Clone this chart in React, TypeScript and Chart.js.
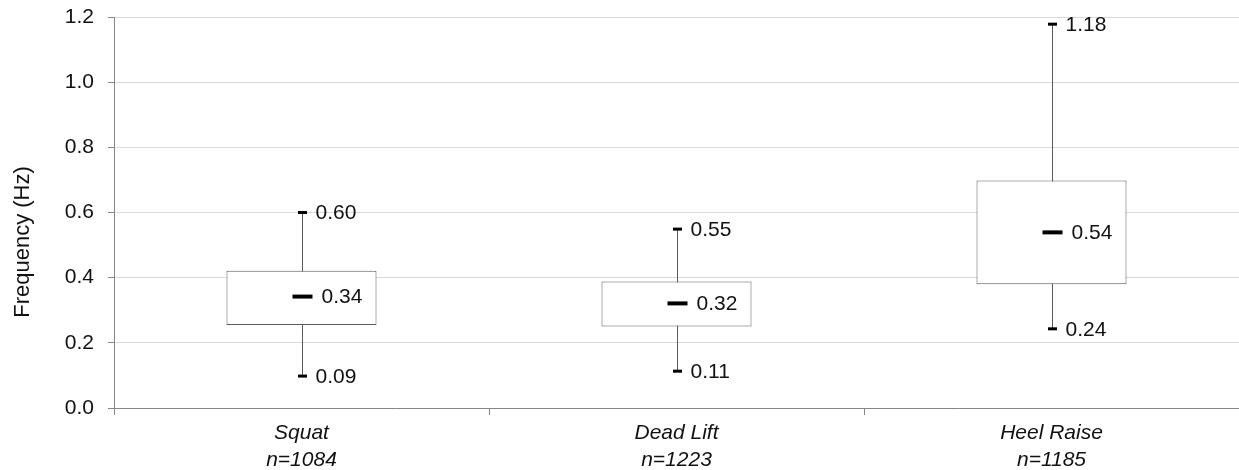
import React, { useEffect, useRef } from "react";
import { Chart, registerables } from "chart.js";

Chart.register(...registerables);

const categories = ["Squat", "Dead Lift", "Heel Raise"];
const sampleSizes = ["n=1084", "n=1223", "n=1185"];
const minValues = [0.098, 0.113, 0.243];
const q1Values = [0.255, 0.25, 0.38];
const medianValues = [0.342, 0.321, 0.539];
const q3Values = [0.421, 0.388, 0.698];
const maxValues = [0.6, 0.549, 1.178];
const minLabels = ["0.09", "0.11", "0.24"];
const medianLabels = ["0.34", "0.32", "0.54"];
const maxLabels = ["0.60", "0.55", "1.18"];
const yMin = 0;
const yMax = 1.2;
const yStep = 0.2;
const yTitle = "Frequency (Hz)";

const FONT = "'Liberation Sans', Arial, sans-serif";
const TEXT = "#111111";
const AXIS = "#868686";
const BOX = "#595959";

const boxPlugin = {
  id: "boxExtras",
  beforeDatasetsDraw(chart: any) {
    const { ctx, scales } = chart;
    const x = scales.x;
    const y = scales.y;
    ctx.save();
    ctx.strokeStyle = BOX;
    ctx.lineWidth = 1;
    categories.forEach((_, i) => {
      const cx = Math.round(x.getPixelForValue(i)) + 0.5;
      ctx.beginPath();
      ctx.moveTo(cx, y.getPixelForValue(maxValues[i]));
      ctx.lineTo(cx, y.getPixelForValue(minValues[i]));
      ctx.stroke();
    });
    ctx.restore();
  },
  afterDatasetsDraw(chart: any) {
    const { ctx, scales } = chart;
    const x = scales.x;
    const y = scales.y;
    ctx.save();
    ctx.fillStyle = "#000000";
    categories.forEach((_, i) => {
      const cx = Math.round(x.getPixelForValue(i)) + 0.5;
      const yMaxPx = y.getPixelForValue(maxValues[i]);
      const yMinPx = y.getPixelForValue(minValues[i]);
      const yMedPx = y.getPixelForValue(medianValues[i]);
      ctx.fillRect(cx - 4.5, yMaxPx - 1.5, 9, 3);
      ctx.fillRect(cx - 4.5, yMinPx - 1.5, 9, 3);
      ctx.fillRect(cx - 10, yMedPx - 2, 20, 4);
    });
    ctx.fillStyle = TEXT;
    ctx.font = `21px ${FONT}`;
    ctx.textAlign = "left";
    ctx.textBaseline = "middle";
    categories.forEach((_, i) => {
      const cx = x.getPixelForValue(i);
      ctx.fillText(maxLabels[i], cx + 14, y.getPixelForValue(maxValues[i]) + 1);
      ctx.fillText(minLabels[i], cx + 14, y.getPixelForValue(minValues[i]) + 1);
      ctx.fillText(medianLabels[i], cx + 20, y.getPixelForValue(medianValues[i]) + 1);
    });
    ctx.restore();
  },
  afterDraw(chart: any) {
    const { ctx } = chart;
    ctx.save();
    ctx.fillStyle = TEXT;
    ctx.font = `22px ${FONT}`;
    ctx.textAlign = "center";
    ctx.textBaseline = "middle";
    ctx.translate(22.5, 242);
    ctx.rotate(-Math.PI / 2);
    ctx.fillText(yTitle, 0, 0);
    ctx.restore();
  },
};

export default function App() {
  const canvasRef = useRef<HTMLCanvasElement | null>(null);

  useEffect(() => {
    if (!canvasRef.current) return;
    const chart = new Chart(canvasRef.current, {
      type: "bar",
      data: {
        labels: categories.map((c, i) => [c, sampleSizes[i]]),
        datasets: [
          {
            label: "IQR",
            data: categories.map((_, i) => [q1Values[i], q3Values[i]]),
            backgroundColor: "#ffffff",
            borderColor: BOX,
            borderWidth: 1,
            borderSkipped: false,
            barPercentage: 0.4,
            categoryPercentage: 1.0,
          },
        ],
      },
      options: {
        animation: false,
        responsive: true,
        maintainAspectRatio: false,
        layout: { padding: { top: 17, right: 0, bottom: 0, left: 0 } },
        plugins: {
          legend: { display: false },
          tooltip: { enabled: false },
          title: { display: false },
        },
        scales: {
          x: {
            afterFit: (scale: any) => {
              scale.height = 62;
              scale.paddingLeft = 0;
              scale.paddingRight = 0;
            },
            border: { color: AXIS, width: 1 },
            grid: {
              drawOnChartArea: false,
              drawTicks: true,
              tickLength: 7,
              tickColor: AXIS,
            },
            ticks: {
              color: TEXT,
              padding: 5,
              font: { family: FONT, size: 21, style: "italic", lineHeight: 27 / 21 },
              maxRotation: 0,
              minRotation: 0,
            },
          },
          y: {
            min: yMin,
            max: yMax,
            afterFit: (scale: any) => {
              scale.width = 114;
              scale.paddingTop = 0;
              scale.paddingBottom = 0;
            },
            border: { color: AXIS, width: 1 },
            grid: {
              color: "#d9d9d9",
              tickColor: AXIS,
              tickLength: 6,
              drawTicks: true,
            },
            ticks: {
              stepSize: yStep,
              color: TEXT,
              padding: 14,
              font: { family: FONT, size: 21 },
              callback: (v: any) => Number(v).toFixed(1),
            },
          },
        },
      },
      plugins: [boxPlugin],
    });
    return () => chart.destroy();
  }, []);

  return (
    <div
      style={{
        position: "fixed",
        left: 0,
        top: 0,
        width: 1239,
        height: 470,
        background: "#ffffff",
      }}
    >
      <canvas ref={canvasRef} />
    </div>
  );
}
